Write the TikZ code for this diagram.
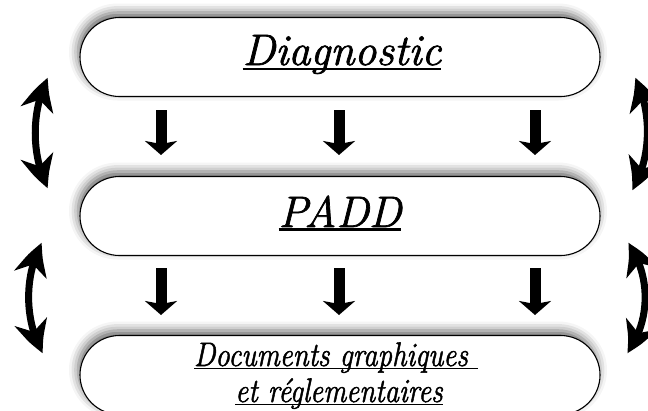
\documentclass[tikz,border=0pt]{standalone}
\usepackage{fontspec}
\newfontfamily\headfont{Latin Modern Roman}[FakeBold=1.6]
\usetikzlibrary{arrows.meta,bending,shadows.blur}
\newcommand\myuline[2]{\setbox0\hbox{#2}\rlap{\rule[-#1]{\wd0}{0.055em}}\box0}
\tikzset{
  x=1pt,y=-1pt,
  box/.style={draw, line width=1.1pt, fill=white, rounded corners=39.5pt,
    minimum width=520pt, minimum height=79pt, inner sep=0pt, outer sep=0pt,
    blur shadow={shadow xshift=-2pt, shadow yshift=5pt, shadow blur radius=9pt, shadow opacity=60}},
  bigtxt/.style={inner sep=0pt, anchor=base, font=\headfont\fontsize{44}{50}\selectfont\itshape},
  smalltxt/.style={inner sep=0pt, anchor=base, xscale=0.85, font=\headfont\fontsize{34}{40}\selectfont\itshape},
  downarr/.style={line width=11pt, -{Stealth[length=14pt,width=32pt,inset=3pt]}},
  sidearr/.style={line width=7pt, {Stealth[length=33pt,width=33pt,inset=10pt,bend]}-{Stealth[length=33pt,width=33pt,inset=10pt,bend]}},
}
\begin{document}
\begin{tikzpicture}
\useasboundingbox (0,0) rectangle (648,410);
% boxes
\node[box] (diag) at (340,57) {};
\node[box] (padd) at (340,216) {};
\node[box] (docs) at (340,375) {};
% labels
\node[bigtxt] (diagt) at (342,65) {\myuline{0.12em}{Diagnostic}};
\node[bigtxt] (paddt) at (340,227) {\myuline{0.08em}{PADD}};
\node[smalltxt] (docs1) at (336,366) {\myuline{0.1em}{Documents graphiques\ }};
\node[smalltxt] (docs2) at (339,402) {\myuline{0.1em}{et réglementaires}};
% down arrows
\coordinate (a1s) at (161,110); \coordinate (a1e) at (161,155);
\coordinate (a2s) at (339,110); \coordinate (a2e) at (339,155);
\coordinate (a3s) at (535,110); \coordinate (a3e) at (535,155);
\coordinate (b1s) at (161,268); \coordinate (b1e) at (161,315);
\coordinate (b2s) at (339,268); \coordinate (b2e) at (339,315);
\coordinate (b3s) at (535,268); \coordinate (b3e) at (535,315);
\foreach \p in {a1,a2,a3,b1,b2,b3} \draw[downarr] (\p s) -- (\p e);
% side arrows
\coordinate (l1t) at (48,78);  \coordinate (l1b) at (48,188);
\coordinate (l2t) at (42,243); \coordinate (l2b) at (43,353);
\coordinate (r1t) at (635,78); \coordinate (r1b) at (632,190);
\coordinate (r2t) at (628,243); \coordinate (r2b) at (627,353);
\draw[sidearr] (l1t) .. controls (31,110) and (31,156) .. (l1b);
\draw[sidearr] (l2t) .. controls (24,275) and (24,321) .. (l2b);
\draw[sidearr] (r1t) .. controls (652,110) and (652,158) .. (r1b);
\draw[sidearr] (r2t) .. controls (651,275) and (651,321) .. (r2b);
\end{tikzpicture}
\end{document}
